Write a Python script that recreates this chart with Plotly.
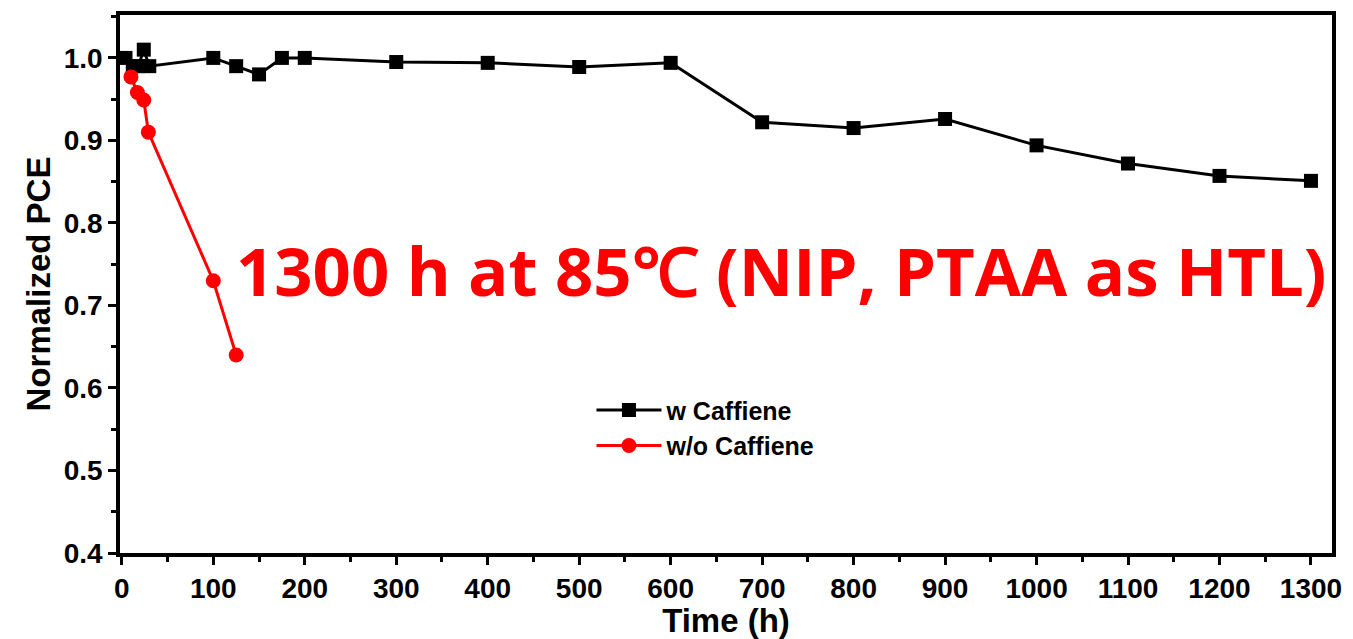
import plotly.graph_objects as go

# Normalized PCE vs. ageing time at 85 °C
time_with = [4, 12, 18, 24, 30, 100, 125, 150, 175, 200, 300, 400, 500, 600,
             700, 800, 900, 1000, 1100, 1200, 1300]
pce_with = [1.0, 0.99, 0.99, 1.01, 0.99, 1.0, 0.99, 0.98, 1.0, 1.0, 0.995, 0.994,
            0.989, 0.994, 0.922, 0.915, 0.926, 0.894, 0.872, 0.857, 0.851]

time_without = [10, 17, 24, 29, 100, 125]
pce_without = [0.977, 0.958, 0.949, 0.91, 0.73, 0.64]

x_ticks = list(range(0, 1301, 100))
y_ticks = [0.4, 0.5, 0.6, 0.7, 0.8, 0.9, 1.0]

AX_FONT = "Liberation Sans, Arial, sans-serif"
TICK_FONT = dict(family=AX_FONT, size=28, color="black", weight="bold")

fig = go.Figure()
fig.add_trace(go.Scatter(
    x=time_with, y=pce_with, mode="lines+markers", name="w Caffiene",
    line=dict(color="black", width=3),
    marker=dict(symbol="square", size=14, color="black"),
))
fig.add_trace(go.Scatter(
    x=time_without, y=pce_without, mode="lines+markers", name="w/o Caffiene",
    line=dict(color="#ff0000", width=3),
    marker=dict(symbol="circle", size=15, color="#ff0000"),
))

fig.add_annotation(
    x=721, y=0.743, xref="x", yref="y", showarrow=False,
    text="<b>1300 h at 85℃ (NIP, PTAA as HTL)</b>",
    font=dict(family="Open Sans, sans-serif", size=67, color="#ff0000"),
    xanchor="center", yanchor="middle",
)

axis_common = dict(
    showline=True, linecolor="black", linewidth=3.5, mirror=True,
    ticks="outside", ticklen=8, tickwidth=3, tickcolor="black",
    showgrid=False, zeroline=False,
)

fig.update_xaxes(
    range=[-2, 1323], tickvals=x_ticks,
    ticktext=[str(v) for v in x_ticks],
    tickfont=TICK_FONT,
    minor=dict(dtick=50, ticks="outside", ticklen=5, tickwidth=3, tickcolor="black"),
    title=dict(text="<b>Time (h)</b>", font=dict(family=AX_FONT, size=33, color="black"),
               standoff=0),
    **axis_common,
)
fig.update_yaxes(
    range=[0.4, 1.052], tickvals=y_ticks,
    ticktext=[f"{v:.1f}" for v in y_ticks],
    tickfont=TICK_FONT,
    minor=dict(dtick=0.05, ticks="outside", ticklen=5, tickwidth=3, tickcolor="black"),
    title=dict(text="<b>Normalized PCE</b>", font=dict(family=AX_FONT, size=33, color="black"),
               standoff=4),
    **axis_common,
)

fig.update_layout(
    width=1353, height=639,
    margin=dict(l=120, r=11, t=15, b=86),
    plot_bgcolor="white", paper_bgcolor="white",
    legend=dict(
        x=0.389, y=0.308, xanchor="left", yanchor="top",
        bgcolor="rgba(0,0,0,0)", borderwidth=0,
        font=dict(family=AX_FONT, size=25, color="black", weight="bold"),
        itemwidth=65, tracegroupgap=0,
    ),
    showlegend=True,
)

fig.write_html("out.html")
